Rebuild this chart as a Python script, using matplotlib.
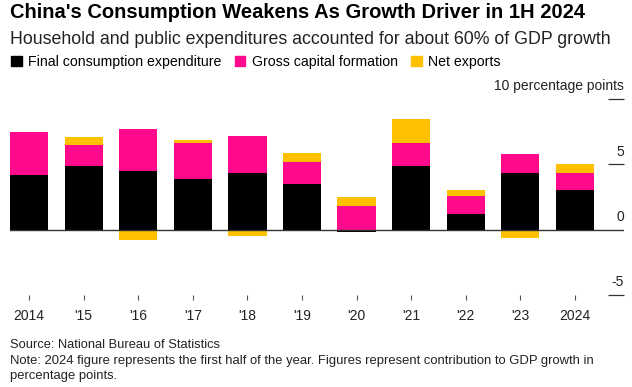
import matplotlib.pyplot as plt
from matplotlib.patches import Patch

plt.rcParams['font.family'] = ['Liberation Sans', 'DejaVu Sans']

# ---- Data (contribution to GDP growth, percentage points) ----
years = ['2014', "'15", "'16", "'17", "'18", "'19", "'20", "'21", "'22", "'23", '2024']
consumption = [4.2, 4.9, 4.5, 3.9, 4.3, 3.5, -0.2, 4.9, 1.2, 4.3, 3.0]
capital = [3.3, 1.6, 3.2, 2.7, 2.9, 1.7, 1.8, 1.7, 1.4, 1.5, 1.3]
net_exports = [-0.1, 0.6, -0.8, 0.3, -0.5, 0.7, 0.7, 1.9, 0.4, -0.6, 0.7]
yticks = [-5, 0, 5, 10]

series = [('Final consumption expenditure', consumption, '#000000'),
          ('Gross capital formation', capital, '#FF0A8C'),
          ('Net exports', net_exports, '#FFC000')]

fig = plt.figure(figsize=(6.32, 3.87), dpi=100)
ax = fig.add_axes([10 / 632, 1 - 295 / 387, 614 / 632, 196 / 387])

x = list(range(len(years)))
pos_bottom = [0.0] * len(years)
neg_bottom = [0.0] * len(years)
for name, vals, col in series:
    bottoms = [pb if v >= 0 else nb for v, pb, nb in zip(vals, pos_bottom, neg_bottom)]
    ax.bar(x, vals, bottom=bottoms, width=0.7, color=col, linewidth=0, zorder=2)
    pos_bottom = [pb + max(v, 0) for v, pb in zip(vals, pos_bottom)]
    neg_bottom = [nb + min(v, 0) for v, nb in zip(vals, neg_bottom)]

ax.set_xlim(-0.35, 10.9)
ax.set_ylim(-5, 10)
ax.axhline(0, color='#333333', linewidth=1.0, zorder=3)

# right side tick segments, labels sit above them
ax.hlines([t for t in yticks if t != 0], 0.974, 1.0, color='#333333',
          linewidth=0.9, transform=ax.get_yaxis_transform(), clip_on=False)
for t in yticks:
    lab = '10 percentage points' if t == 10 else str(t)
    ax.annotate(lab, xy=(1.0, t), xycoords=ax.get_yaxis_transform(),
                xytext=(0, 4), textcoords='offset points',
                ha='right', va='bottom', fontsize=10, color='#222222')

ax.set_yticks([])
ax.set_xticks(x)
ax.set_xticklabels(years, fontsize=10, color='#222222')
ax.tick_params(axis='x', length=3.6, width=0.8, color='#555555', pad=6.5)
for s in ax.spines.values():
    s.set_visible(False)

fig.text(10 / 632, 1 - 18.5 / 387, "China's Consumption Weakens As Growth Driver in 1H 2024",
         fontsize=14.5, fontweight='bold', va='baseline', color='#000000')
fig.text(10 / 632, 1 - 43.5 / 387,
         'Household and public expenditures accounted for about 60% of GDP growth',
         fontsize=12.8, va='baseline', color='#222222')

handles = [Patch(color=col, label=name) for name, vals, col in series]
fig.legend(handles=handles, loc='upper left', bbox_to_anchor=(11 / 632, 1 - 55 / 387),
           ncol=3, frameon=False, fontsize=10.2, handlelength=0.75, handleheight=0.75,
           handletextpad=0.45, columnspacing=0.95, borderaxespad=0, borderpad=0)

fig.text(10 / 632, 1 - 348 / 387, 'Source: National Bureau of Statistics',
         fontsize=9.3, va='baseline', color='#222222')
fig.text(10 / 632, 1 - 364 / 387,
         'Note: 2024 figure represents the first half of the year. Figures represent contribution to GDP growth in',
         fontsize=9.4, va='baseline', color='#222222')
fig.text(10 / 632, 1 - 378.5 / 387, 'percentage points.',
         fontsize=9.4, va='baseline', color='#222222')

plt.savefig('out.png', dpi=100)
